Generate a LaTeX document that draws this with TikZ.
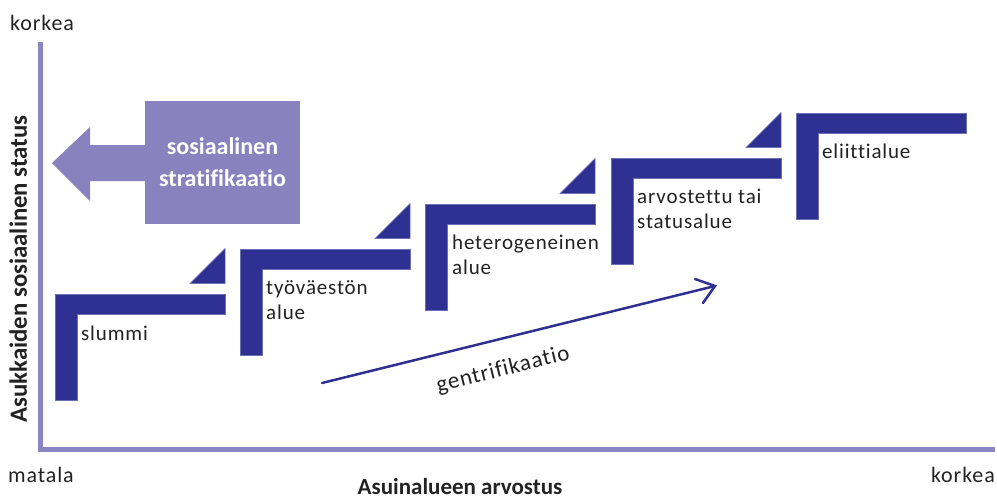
\documentclass[tikz,border=0pt]{standalone}
\usepackage{fontspec}
\setmainfont[Ligatures={NoCommon}]{Carlito}
\newfontfamily\spacedfont[Ligatures={NoCommon},LetterSpace=4]{Carlito}
\definecolor{stepblue}{HTML}{2E3192}
\definecolor{axispurple}{HTML}{8A86C2}
\definecolor{boxpurple}{HTML}{8A82BE}
\definecolor{txt}{HTML}{222222}
\begin{document}
\begin{tikzpicture}[x=1pt,y=-1pt,
  stepshape/.style={fill=stepblue,draw=stepblue!70!white,line width=0.5pt},
  axisline/.style={draw=axispurple,line width=5pt},
  steplabel/.style={anchor=north west,inner sep=0pt,align=left,text=txt,font=\spacedfont\fontsize{21}{25}\selectfont},
  axislabel/.style={inner sep=0pt,text=txt,font=\spacedfont\fontsize{22}{26}\selectfont},
  boldlabel/.style={inner sep=0pt,text=txt,font=\bfseries\fontsize{24}{28}\selectfont}]
\useasboundingbox (0,0) rectangle (997,498);
% axes
\coordinate (origin) at (40,449.5);
\coordinate (ytop) at (40,42);
\coordinate (xend) at (995,449.5);
\draw[axisline] (ytop) -- (40,452) (37.5,449.5) -- (xend);
\node[axislabel,anchor=base west] (ykorkea) at (10,30) {korkea};
\node[axislabel,anchor=base west] (matala) at (8,482) {matala};
\node[axislabel,anchor=base east] (xkorkea) at (995,482) {korkea};
\node[boldlabel,anchor=base,font=\bfseries\fontsize{23}{27}\selectfont] (xlabel) at (460,494) {Asuinalueen arvostus};
\node[boldlabel,anchor=base,rotate=90,font=\bfseries\fontsize{24.8}{28}\selectfont] (ylabel) at (27,269) {Asukkaiden sosiaalinen status};
% stratification box and arrow
\fill[boxpurple] (52,163) -- (90,127) -- (90,145) -- (146,145) -- (146,181) -- (90,181) -- (90,201) -- cycle;
\node[fill=boxpurple,minimum width=155pt,minimum height=123pt,inner sep=0pt,align=center,text=white,
  font=\bfseries\fontsize{24}{32}\selectfont] (strat) at (222.5,162.5) {sosiaalinen\\stratifikaatio};
% steps
\foreach \L/\T/\tri in {55/294/1,240/249/1,425/204/1,611/158/1,796/113/0}{
  \fill[stepshape] (\L,\T) -- ++(170,0) -- ++(0,20.5) -- ++(-148,0) -- ++(0,85.5) -- ++(-22,0) -- cycle;
  \ifnum\tri=1
    \fill[stepshape] (\L+135,\T-10.5) -- (\L+170,\T-10.5) -- (\L+170,\T-45.5) -- cycle;
  \fi
}
\node[steplabel] (slummi) at (81,326) {slummi};
\node[steplabel] (tyovaesto) at (266,280) {työväestön\\alue};
\node[steplabel] (hetero) at (452,235) {heterogeneinen\\alue};
\node[steplabel] (arvostettu) at (637,189) {arvostettu tai\\statusalue};
\node[steplabel] (eliitti) at (822,144) {eliittialue};
% gentrification arrow
\coordinate (gstart) at (322,383);
\coordinate (gend) at (715,286);
\draw[stepblue,line width=2.5pt,line cap=round] (gstart) -- (gend);
\draw[stepblue,line width=2.5pt,line cap=round,line join=miter] (695,279) -- (gend) -- (703,303);
\node[inner sep=0pt,text=txt,font=\spacedfont\fontsize{23}{27}\selectfont,rotate=14] (gentri) at (503,370) {gentrifikaatio};
\end{tikzpicture}
\end{document}
